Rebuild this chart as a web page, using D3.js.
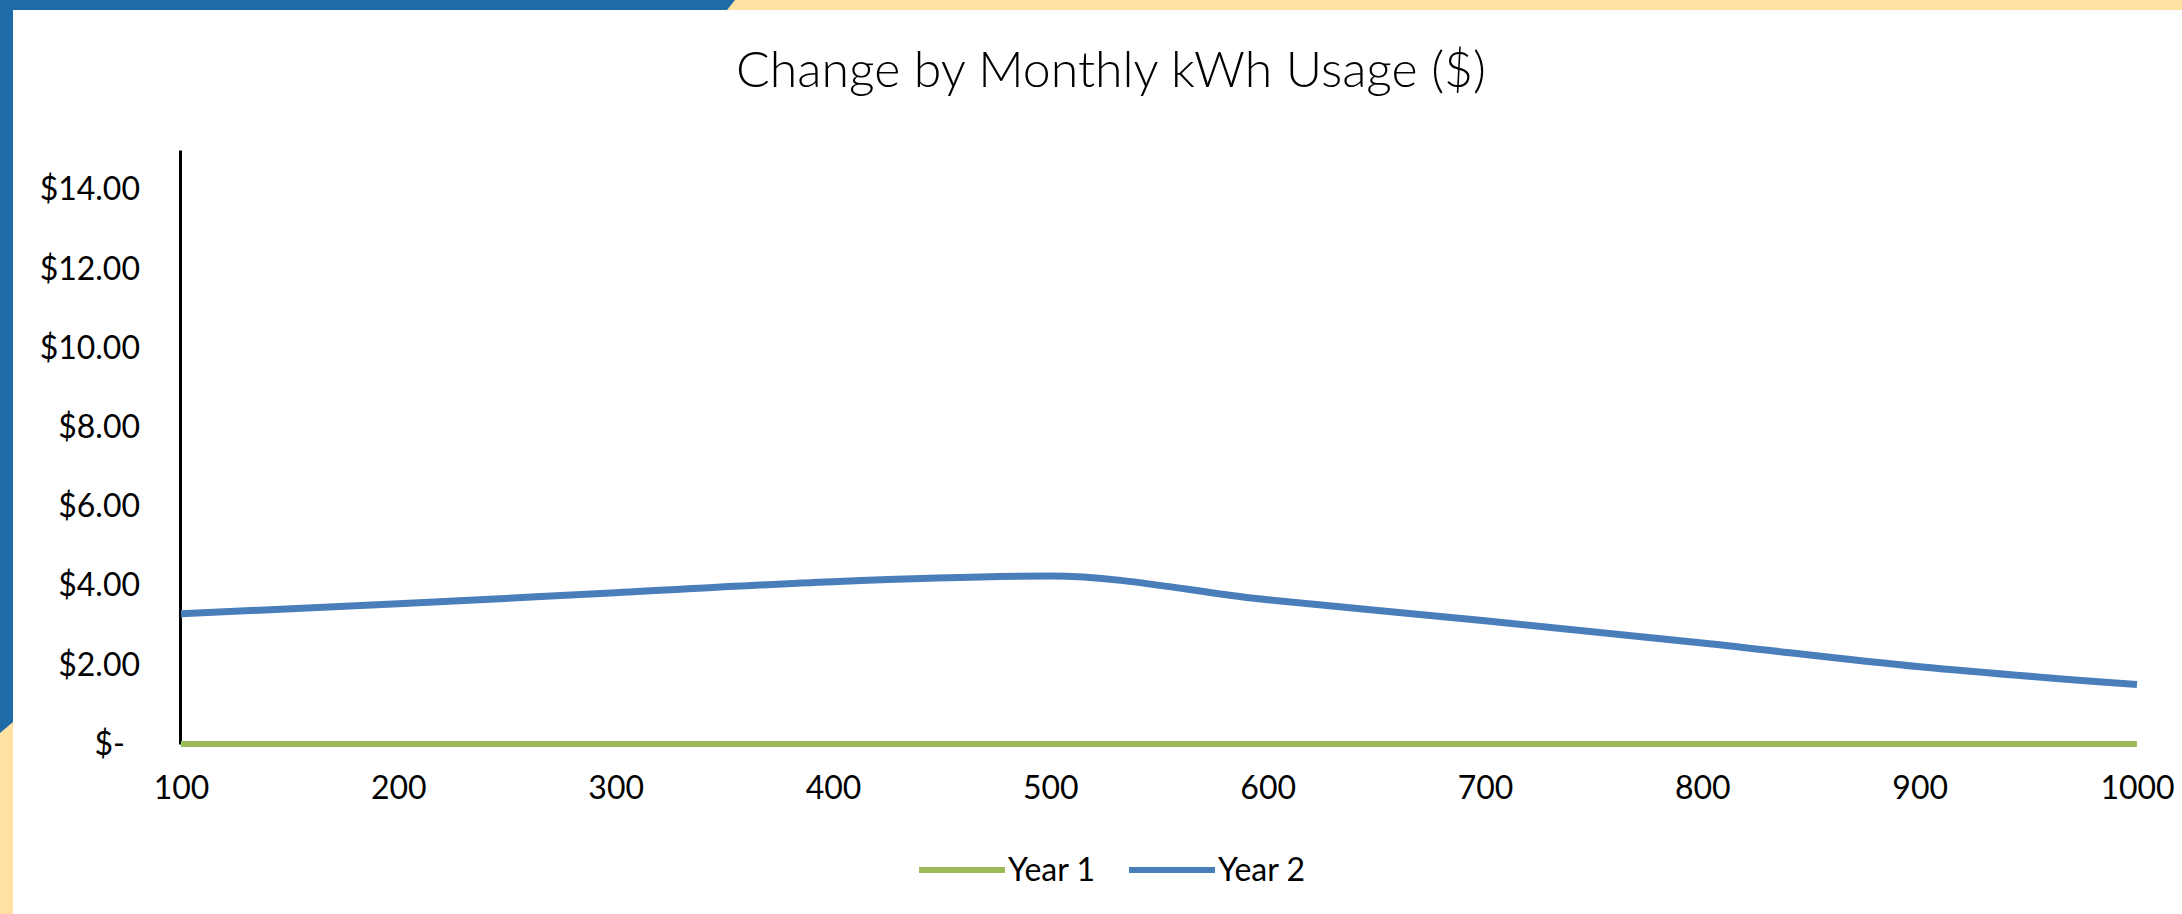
<!DOCTYPE html>
<html>
<head>
<meta charset="utf-8">
<script src="https://cdn.jsdelivr.net/npm/d3@7"></script>
<style>
  body { margin: 0; background: #fff; }
  text { font-family: Lato, "Open Sans", sans-serif; fill: #000; }
</style>
</head>
<body>
<script>
const w = 2182;
const h = 914;

// chart data
const kwh = [100, 200, 300, 400, 500, 600, 700, 800, 900, 1000];
const year1 = [0, 0, 0, 0, 0, 0, 0, 0, 0, 0];
const year2 = [3.29, 3.54, 3.82, 4.10, 4.24, 3.64, 3.11, 2.55, 1.95, 1.50];
const yTicks = [0, 2, 4, 6, 8, 10, 12, 14];
const seriesNames = ["Year 1", "Year 2"];
const colors = ["#9BBB59", "#4A7EBB"];

const svg = d3.select("body")
	.append("svg")
	.attr("width", w)
	.attr("height", h);

// frame decorations (blue / yellow bands)
svg.append("rect").attr("x", 0).attr("y", 0).attr("width", w).attr("height", 10).attr("fill", "#FFE1A1");
svg.append("polygon").attr("points", "0,0 735,0 727,10 0,10").attr("fill", "#1E6BA8");
svg.append("rect").attr("x", 0).attr("y", 0).attr("width", 13).attr("height", h).attr("fill", "#FFE1A1");
svg.append("polygon").attr("points", "0,0 13,0 13,722 0,733").attr("fill", "#1E6BA8");

const xScale = d3.scalePoint()
	.domain(kwh)
	.range([181, 2137]);

const yScale = d3.scaleLinear()
	.domain([0, 15])
	.range([744, 150]);

// title
svg.append("text")
	.attr("x", 1111)
	.attr("y", 87)
	.attr("text-anchor", "middle")
	.attr("font-size", "50px")
	.attr("font-weight", 300)
	.text("Change by Monthly kWh Usage ($)");

// y axis
const yAxis = d3.axisLeft(yScale)
	.tickValues(yTicks)
	.tickSize(0)
	.tickPadding(40)
	.tickFormat((d) => d === 0 ? "$-" : "$" + d3.format(".2f")(d));

const gy = svg.append("g")
	.attr("transform", "translate(180,0)")
	.call(yAxis);
gy.select(".domain").attr("stroke", "#000").attr("stroke-width", 3);
gy.selectAll("text")
	.attr("font-size", "32px")
	.attr("font-family", "Lato, 'Open Sans', sans-serif")
	.attr("fill", "#000")
	.attr("dx", (d) => d === 0 ? -15 : 0);

// x axis
const xAxis = d3.axisBottom(xScale).tickSize(0).tickPadding(32);
const gx = svg.append("g")
	.attr("transform", "translate(0,744)")
	.call(xAxis);
gx.select(".domain").remove();
gx.selectAll("text")
	.attr("font-size", "32px")
	.attr("font-family", "Lato, 'Open Sans', sans-serif")
	.attr("fill", "#000");

// lines
const line = d3.line()
	.x((d, i) => xScale(kwh[i]))
	.y((d) => yScale(d))
	.curve(d3.curveMonotoneX);

svg.append("path")
	.datum(year1)
	.attr("d", line)
	.attr("fill", "none")
	.attr("stroke", colors[0])
	.attr("stroke-width", 6);

svg.append("path")
	.datum(year2)
	.attr("d", line)
	.attr("fill", "none")
	.attr("stroke", colors[1])
	.attr("stroke-width", 7);

// legend
const legend = svg.append("g");
let lx = 919;
seriesNames.forEach((name, i) => {
	legend.append("line")
		.attr("x1", lx).attr("x2", lx + 86)
		.attr("y1", 870).attr("y2", 870)
		.attr("stroke", colors[i])
		.attr("stroke-width", 6);
	const t = legend.append("text")
		.attr("x", lx + 89)
		.attr("y", 881)
		.attr("font-size", "32px")
		.text(name);
	lx = lx + 89 + t.node().getComputedTextLength() + 34;
});
</script>
</body>
</html>
